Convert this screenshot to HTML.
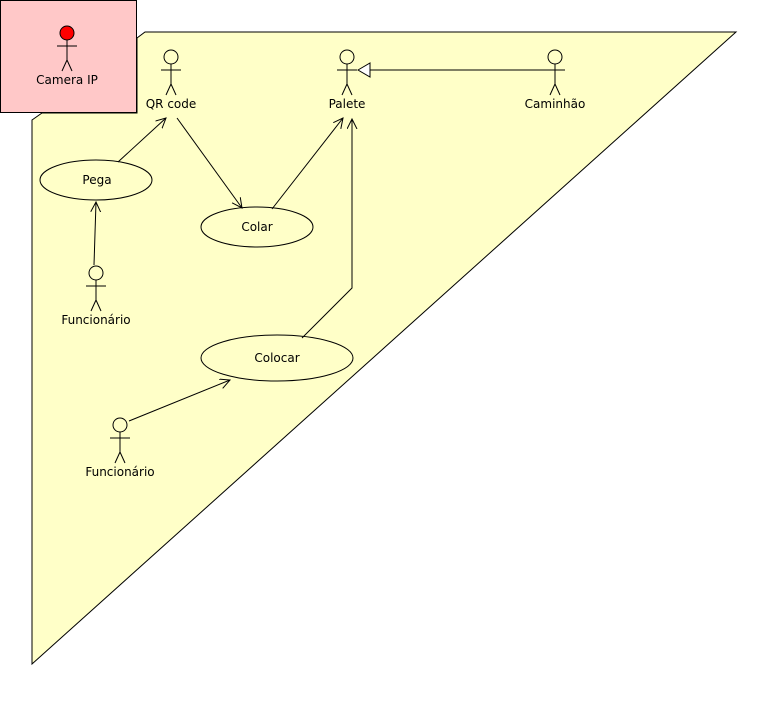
<!DOCTYPE html>
<html><head><meta charset="utf-8"><style>
body{margin:0;background:#fff;width:774px;height:702px;overflow:hidden}
text{font-family:"DejaVu Sans","Liberation Sans",sans-serif;font-size:12px;fill:#000}
</style></head><body>
<svg width="774" height="702" xmlns="http://www.w3.org/2000/svg">
<defs>
<marker id="a" markerWidth="12" markerHeight="12" refX="10" refY="5" orient="auto" markerUnits="userSpaceOnUse">
<path d="M0,0 L10,5 L0,10" fill="none" stroke="#000"/>
</marker>
</defs>
<polygon points="32,120 42,113 137,113 137,38 145,32 736,32 32,664" fill="#ffffc8" stroke="#000"/>
<rect x="0.5" y="0.5" width="136" height="112" fill="#ffc8c8" stroke="#000"/>
<g fill="none" stroke="#000">
<!-- Camera IP -->
<circle cx="67" cy="33" r="7" fill="#f00"/>
<path d="M67,40 V60 M57,46 H77 M67,60 L62,71 M67,60 L72,71"/>
<!-- QR code -->
<circle cx="171" cy="57" r="7" fill="#ffffc8"/>
<path d="M171,64 V84 M161,70 H181 M171,84 L166,95 M171,84 L176,95"/>
<!-- Palete -->
<circle cx="347" cy="57" r="7" fill="#ffffc8"/>
<path d="M347,64 V84 M337,70 H357 M347,84 L342,95 M347,84 L352,95"/>
<!-- Caminhão -->
<circle cx="555" cy="57" r="7" fill="#ffffc8"/>
<path d="M555,64 V84 M545,70 H565 M555,84 L550,95 M555,84 L560,95"/>
<!-- Funcionario 1 -->
<circle cx="96" cy="273" r="7" fill="#ffffc8"/>
<path d="M96,280 V300 M86,286 H106 M96,300 L91,311 M96,300 L101,311"/>
<!-- Funcionario 2 -->
<circle cx="120" cy="425" r="7" fill="#ffffc8"/>
<path d="M120,432 V452 M110,438 H130 M120,452 L115,463 M120,452 L125,463"/>
<!-- ellipses -->
<ellipse cx="96" cy="180" rx="56" ry="20" fill="#ffffc8"/>
<ellipse cx="257" cy="227" rx="56" ry="20" fill="#ffffc8"/>
<ellipse cx="277" cy="358" rx="76" ry="23" fill="#ffffc8"/>
<!-- connectors -->
<path d="M118,162 L166,118" marker-end="url(#a)"/>
<path d="M177,118 L242,208" marker-end="url(#a)"/>
<path d="M272,209 L343,118" marker-end="url(#a)"/>
<path d="M302,338 L352,288 L352,119" marker-end="url(#a)"/>
<path d="M94,265 L96,202" marker-end="url(#a)"/>
<path d="M129,421 L230,380" marker-end="url(#a)"/>
<path d="M547,70 H370"/>
<polygon points="358,70 370,63 370,77" fill="#fff"/>
</g>
<text x="67" y="84" text-anchor="middle">Camera IP</text>
<text x="171" y="108" text-anchor="middle">QR code</text>
<text x="347" y="108" text-anchor="middle">Palete</text>
<text x="555" y="108" text-anchor="middle">Caminhão</text>
<text x="96" y="324" text-anchor="middle">Funcionário</text>
<text x="120" y="476" text-anchor="middle">Funcionário</text>
<text x="97" y="184" text-anchor="middle">Pega</text>
<text x="257" y="231" text-anchor="middle">Colar</text>
<text x="277" y="362" text-anchor="middle">Colocar</text>
</svg>
</body></html>
